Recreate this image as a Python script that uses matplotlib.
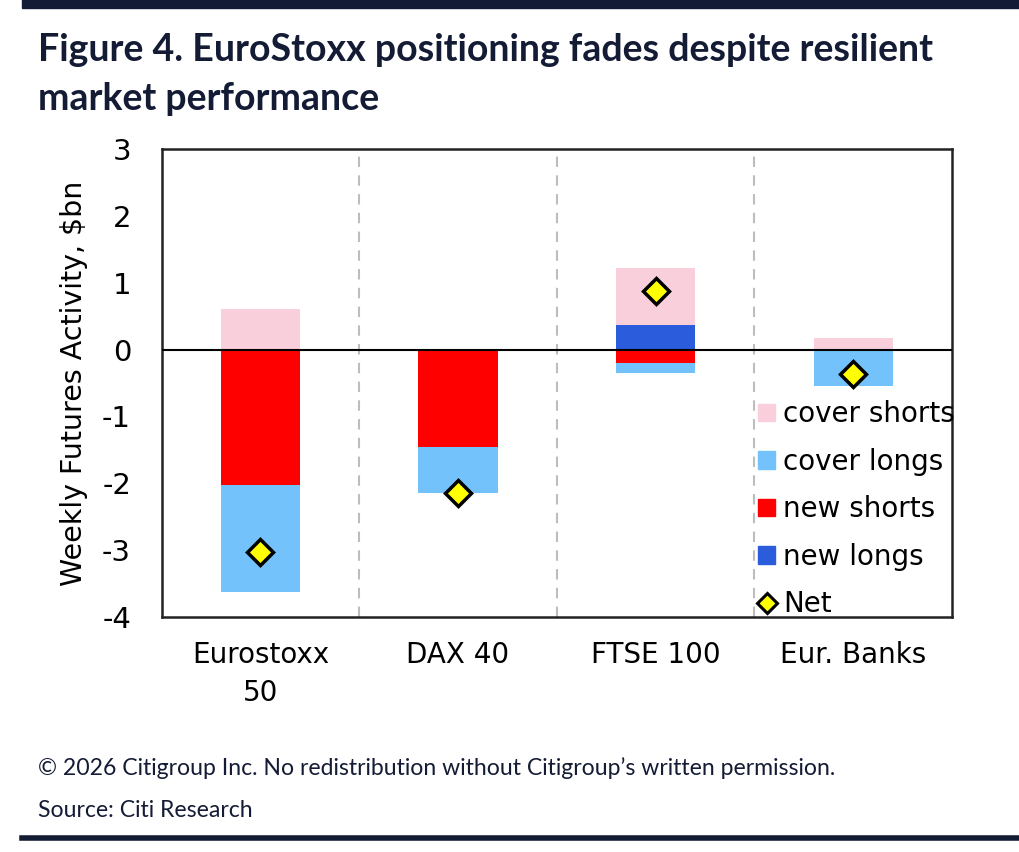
import matplotlib
matplotlib.use("Agg")
import matplotlib.pyplot as plt
import numpy as np
from matplotlib.patches import Patch
from matplotlib.lines import Line2D

plt.rcParams["axes.unicode_minus"] = False

NAVY = "#141B34"

categories = ["Eurostoxx\n50", "DAX 40", "FTSE 100", "Eur. Banks"]
cover_shorts = [0.60, 0.00, 0.855, 0.17]
new_longs = [0.00, 0.00, 0.365, 0.00]
new_shorts = [-2.03, -1.46, -0.20, 0.00]
cover_longs = [-1.60, -0.68, -0.145, -0.55]
net = [-3.03, -2.14, 0.88, -0.37]

C_CS = "#F8CFDB"
C_CL = "#73C2FB"
C_NS = "#FF0000"
C_NL = "#2A5CDB"

fig = plt.figure(figsize=(10.2, 8.52), dpi=100)
ax = fig.add_axes([0.1585, 0.2758, 0.7747, 0.5493])

x = np.arange(len(categories))
w = 0.40
pos_base = np.zeros(len(x))
neg_base = np.zeros(len(x))

# positives stacked upward from zero: new longs first, then cover shorts
ax.bar(x, new_longs, w, bottom=pos_base, color=C_NL, zorder=2)
pos_base += np.array(new_longs)
ax.bar(x, cover_shorts, w, bottom=pos_base, color=C_CS, zorder=2)
# negatives stacked downward: new shorts first, then cover longs
ax.bar(x, new_shorts, w, bottom=neg_base, color=C_NS, zorder=2)
neg_base += np.array(new_shorts)
ax.bar(x, cover_longs, w, bottom=neg_base, color=C_CL, zorder=2)

ax.plot(x, net, linestyle="none", marker="D", markersize=13,
        markerfacecolor="#FFFF00", markeredgecolor="black",
        markeredgewidth=2.5, zorder=4)

ax.axhline(0, color="black", lw=1.5, zorder=3)
for xv in [0.5, 1.5, 2.5]:
    ax.axvline(xv, color="#BDBDBD", lw=1.5, ls=(0, (5, 4)), zorder=1)

ax.set_xlim(-0.5, 3.5)
ax.set_ylim(-4, 3)
ax.set_yticks(range(-4, 4))
ax.set_xticks(x)
ax.set_xticklabels(categories, fontsize=20, linespacing=1.45)
ax.tick_params(axis="y", length=0, pad=22, labelsize=21)
ax.tick_params(axis="x", length=0, pad=17)
for s in ax.spines.values():
    s.set_linewidth(1.8)
    s.set_color("#222222")
ax.set_ylabel("Weekly Futures Activity, $bn", fontsize=20.5, labelpad=10)

handles = [Patch(color=C_CS), Patch(color=C_CL), Patch(color=C_NS),
           Patch(color=C_NL),
           Line2D([], [], linestyle="none", marker="D", markersize=10,
                  markerfacecolor="#FFFF00", markeredgecolor="black",
                  markeredgewidth=2.2)]
labels = ["cover shorts", "cover longs", "new shorts", "new longs", "Net"]
ax.legend(handles, labels, loc="upper left", bbox_to_anchor=(0.755, 0.463),
          frameon=False, fontsize=20, handlelength=0.6, handleheight=0.6,
          handletextpad=0.3, labelspacing=0.7, borderaxespad=0,
          borderpad=0)

# header / footer
fig.add_artist(plt.Rectangle((0.0216, 0.991), 1.0, 0.012,
                             transform=fig.transFigure, color=NAVY))
fig.add_artist(Line2D([0.0216, 1.0], [0.016, 0.016],
                      transform=fig.transFigure, color=NAVY, lw=4))
tfont = ["Lato", "DejaVu Sans"]
fig.text(0.037, 0.941, "Figure 4. EuroStoxx positioning fades despite resilient",
         fontsize=27, fontweight="bold", color=NAVY, family=tfont, va="center")
fig.text(0.037, 0.884, "market performance",
         fontsize=27, fontweight="bold", color=NAVY, family=tfont, va="center")
fig.text(0.037, 0.098,
         "\u00a9 2026 Citigroup Inc. No redistribution without Citigroup\u2019s written permission.",
         fontsize=16.6, color=NAVY, family=tfont, va="center")
fig.text(0.037, 0.049, "Source: Citi Research",
         fontsize=16.6, color=NAVY, family=tfont, va="center")

fig.savefig("out.png", dpi=100)
